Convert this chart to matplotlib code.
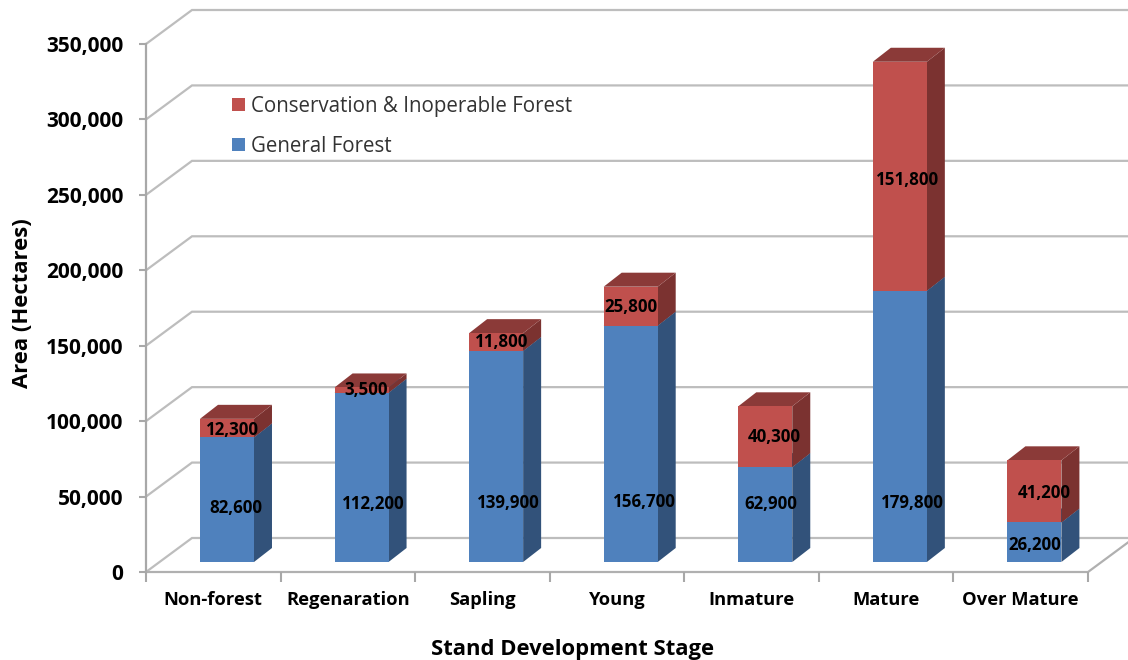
import matplotlib
matplotlib.use("Agg")
import matplotlib.pyplot as plt
from matplotlib.patches import Polygon
from matplotlib.transforms import ScaledTranslation

plt.rcParams["font.family"] = "Open Sans"

stages = ["Non-forest", "Regenaration", "Sapling", "Young", "Inmature", "Mature", "Over Mature"]
general = [82600, 112200, 139900, 156700, 62900, 179800, 26200]
conservation = [12300, 3500, 11800, 25800, 40300, 151800, 41200]
y_ticks = [0, 50000, 100000, 150000, 200000, 250000, 300000, 350000]

# where the data labels sit in the picture (pixels), they are hand placed there
general_label_px = [(236, 508), (373, 504), (508, 503), (644, 502), (771, 504), (912, 503), (1035, 545)]
conservation_label_px = [(232, 430), (366, 390), (502, 342), (631, 307), (774, 437), (908, 180), (1044, 493)]

W, H = 1128, 660
LEFT, RIGHT, TOP, BOTTOM = 146, 1088, 44, 572
DPI = 100

fig = plt.figure(figsize=(W / DPI, H / DPI), dpi=DPI)
ax = fig.add_axes([LEFT / W, 1 - BOTTOM / H, (RIGHT - LEFT) / W, (BOTTOM - TOP) / H])
ax.set_xlim(0, 7)
ax.set_ylim(0, 350000)
for s in ax.spines.values():
    s.set_visible(False)

# data units per pixel
ux = 7 / (RIGHT - LEFT)
uy = 350000 / (BOTTOM - TOP)

# back wall and floor
wall_x, wall_y = 46 * ux, 34 * uy
for t in y_ticks:
    ax.plot([0, wall_x, 7 + wall_x], [t, t + wall_y, t + wall_y], color="#bdbdbd", lw=1.6,
            clip_on=False, zorder=1, solid_joinstyle="miter")
ax.plot([0, 7, 7 + wall_x], [0, 0, wall_y], color="#b0b0b0", lw=1.6, clip_on=False, zorder=1.5)
ax.plot([0, 0], [0, 350000], color="#a8a8a8", lw=1.6, clip_on=False, zorder=1.5)

# 3d bars, shifted off the axis onto the floor
shift = ax.transData + ScaledTranslation(13.7 / DPI, 10 / DPI, fig.dpi_scale_trans)
bar_w = 54 * ux
dx, dy = 18 * ux, 14 * uy
x = [i + 0.5 for i in range(len(stages))]


def draw_box(xc, bottom, height, side, top, zorder):
    l, r = xc - bar_w / 2, xc + bar_w / 2
    t = bottom + height
    ax.add_patch(Polygon([(r, bottom), (r + dx, bottom + dy), (r + dx, t + dy), (r, t)],
                         fc=side, ec="none", transform=shift, clip_on=False, zorder=zorder))
    ax.add_patch(Polygon([(l, t), (r, t), (r + dx, t + dy), (l + dx, t + dy)],
                         fc=top, ec="none", transform=shift, clip_on=False, zorder=zorder))


b1 = ax.bar(x, general, width=bar_w, color="#4f81bd", transform=shift, clip_on=False, zorder=3,
            label="General Forest")
b2 = ax.bar(x, conservation, width=bar_w, bottom=general, color="#c0504d", transform=shift, clip_on=False,
            zorder=3, label="Conservation & Inoperable Forest")
for xc, g, c in zip(x, general, conservation):
    draw_box(xc, 0, g, "#32527a", "#32527a", 2.5)
    draw_box(xc, g, c, "#7b3230", "#8b3a38", 2.5)
ax.set_xlim(0, 7)
ax.set_ylim(0, 350000)

for vals, places in ((general, general_label_px), (conservation, conservation_label_px)):
    for v, (px, py) in zip(vals, places):
        fig.text(px / W, 1 - py / H, f"{v:,}", ha="center", va="center", fontsize=12.2, color="black",
                 fontweight="bold", zorder=6)

# axes
ax.set_yticks(y_ticks)
ax.set_yticklabels([f"{t:,}" for t in y_ticks], fontsize=15, fontweight="bold")
ax.tick_params(axis="y", length=5, width=1.5, color="#a8a8a8", pad=11.5)
ax.set_xticks(range(8))
ax.set_xticklabels([])
ax.set_xticks(x, minor=True)
ax.set_xticklabels(stages, minor=True, fontsize=13.2, fontweight="bold")
ax.tick_params(axis="x", which="major", length=7, width=1.5, color="#a8a8a8")
ax.tick_params(axis="x", which="minor", length=0, pad=14)

fig.text(573 / W, 1 - 649 / H, "Stand Development Stage", ha="center", va="center", fontsize=15.8, fontweight="bold")
fig.text(23 / W, 1 - 303 / H, "Area (Hectares)", ha="center", va="center", rotation=90, fontsize=15.8, fontweight="bold")

leg = ax.legend([b2, b1], ["Conservation & Inoperable Forest", "General Forest"], frameon=False,
                loc="upper left", bbox_to_anchor=(232 / W, 1 - 96 / H), bbox_transform=fig.transFigure,
                fontsize=14.8, handlelength=0.62, handleheight=0.62, handletextpad=0.32,
                labelspacing=0.92, borderpad=0, borderaxespad=0, labelcolor="#333333")

fig.savefig("out.png", dpi=DPI)
